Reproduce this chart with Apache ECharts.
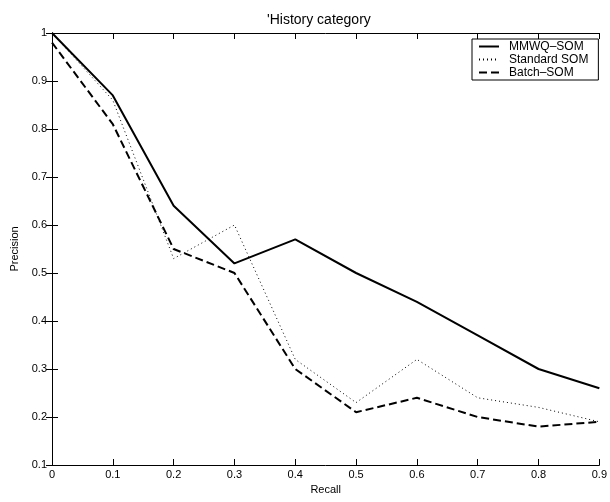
<!DOCTYPE html>
<html>
<head>
<meta charset="utf-8">
<script src="https://cdn.jsdelivr.net/npm/echarts@6/dist/echarts.min.js"></script>
<style>
  html, body { margin: 0; padding: 0; background: #fff; }
  #chart { width: 610px; height: 502px; }
</style>
</head>
<body>
<div id="chart"></div>
<script>
// Recall levels on the x axis
const recall = [0, 0.1, 0.2, 0.3, 0.4, 0.5, 0.6, 0.7, 0.8, 0.9];

// Precision per method
const mmwqSom     = [1.00, 0.87, 0.64, 0.52, 0.57, 0.50, 0.44, 0.37, 0.30, 0.26];
const standardSom = [1.00, 0.86, 0.53, 0.60, 0.32, 0.23, 0.32, 0.24, 0.22, 0.19];
const batchSom    = [0.98, 0.81, 0.55, 0.50, 0.30, 0.21, 0.24, 0.20, 0.18, 0.19];

const seriesNames = ['MMWQ\u2013SOM', 'Standard SOM', 'Batch\u2013SOM'];

const pairs = ys => recall.map((x, i) => [x, ys[i]]);

const font = 'Liberation Sans, Arial, Helvetica, sans-serif';

const chart = echarts.init(document.getElementById('chart'), null, { renderer: 'canvas' });

const baseAxis = {
  axisLine: { show: true, lineStyle: { color: '#000', width: 1 } },
  axisTick: { show: true, inside: true, length: 6, lineStyle: { color: '#000' } },
  splitLine: { show: false },
  axisLabel: { color: '#000', fontFamily: font, fontSize: 11 }
};

chart.setOption({
  animation: false,
  backgroundColor: '#fff',
  title: {
    text: "'History category",
    left: 262,
    top: 8,
    textStyle: { fontFamily: font, fontSize: 14, fontWeight: 'normal', color: '#000' }
  },
  grid: { left: 52, right: 9, top: 33, bottom: 37 },
  legend: {
    left: 472,
    top: 39,
    orient: 'vertical',
    backgroundColor: '#fff',
    borderColor: '#000',
    borderWidth: 1,
    borderRadius: 0,
    padding: [1, 10, 1, 6],
    itemGap: 0,
    itemWidth: 20,
    itemHeight: 13,
    // line samples only, no marker on top of them
    itemStyle: { color: 'transparent', borderColor: 'transparent', borderWidth: 0, opacity: 0 },
    textStyle: { fontFamily: font, fontSize: 12, color: '#000', lineHeight: 13, padding: [0, 0, 0, 5] },
    data: seriesNames
  },
  xAxis: [
    Object.assign({}, baseAxis, {
      type: 'value', min: 0, max: 0.9, interval: 0.1,
      name: 'Recall', nameLocation: 'middle', nameGap: 18,
      nameTextStyle: { fontFamily: font, fontSize: 11, color: '#000' },
      axisLabel: Object.assign({}, baseAxis.axisLabel, { margin: 4 })
    }),
    Object.assign({}, baseAxis, {
      type: 'value', min: 0, max: 0.9, interval: 0.1, position: 'top',
      axisLabel: { show: false }
    })
  ],
  yAxis: [
    Object.assign({}, baseAxis, {
      type: 'value', min: 0.1, max: 1, interval: 0.1,
      name: 'Precision', nameLocation: 'middle', nameGap: 27,
      nameTextStyle: { fontFamily: font, fontSize: 11, color: '#000' },
      axisLabel: Object.assign({}, baseAxis.axisLabel, { margin: 5 })
    }),
    Object.assign({}, baseAxis, {
      type: 'value', min: 0.1, max: 1, interval: 0.1, position: 'right',
      axisLabel: { show: false }
    })
  ],
  series: [
    {
      name: seriesNames[0], type: 'line', data: pairs(mmwqSom),
      showSymbol: false, symbol: 'none', color: '#000',
      lineStyle: { color: '#000', width: 2, type: 'solid' }
    },
    {
      name: seriesNames[1], type: 'line', data: pairs(standardSom),
      showSymbol: false, symbol: 'none', color: '#000',
      lineStyle: { color: '#000', width: 1, type: [1, 3] }
    },
    {
      name: seriesNames[2], type: 'line', data: pairs(batchSom),
      showSymbol: false, symbol: 'none', color: '#000',
      lineStyle: { color: '#000', width: 2, type: [8, 4] }
    }
  ]
});
</script>
</body>
</html>
